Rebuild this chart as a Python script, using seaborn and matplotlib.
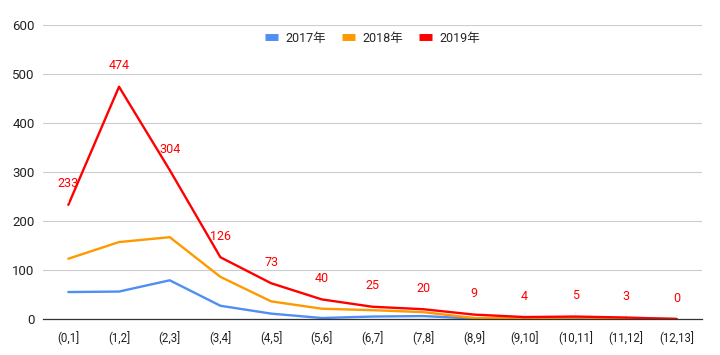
import numpy as np
import pandas as pd
import matplotlib
matplotlib.use('Agg')
import matplotlib.pyplot as plt
import seaborn as sns

# 区间分类
bins = ['(0,1]', '(1,2]', '(2,3]', '(3,4]', '(4,5]', '(5,6]', '(6,7]',
        '(7,8]', '(8,9]', '(9,10]', '(10,11]', '(11,12]', '(12,13]']
y2017 = [55, 56, 79, 27, 11, 2, 5, 6, 1, 1, 1, 1, 0]
y2018 = [123, 157, 167, 86, 36, 21, 18, 14, 2, 2, 3, 2, 0]
y2019 = [233, 474, 304, 126, 73, 40, 25, 20, 9, 4, 5, 3, 0]
years = ['2017年', '2018年', '2019年']
colors = ['#4f8ef5', '#ff9900', '#ff0000']

df = pd.DataFrame({'bin': bins * 3,
                   'x': list(range(len(bins))) * 3,
                   'count': y2017 + y2018 + y2019,
                   'year': [years[0]] * len(bins) + [years[1]] * len(bins) + [years[2]] * len(bins)})

sns.set_style('white')
plt.rcParams['font.family'] = ['Roboto', 'Noto Sans CJK SC', 'DejaVu Sans']

fig = plt.figure(figsize=(7.2, 3.55), dpi=100)
ax = fig.add_axes([0.0597, 0.1014, 0.9153, 0.8282])

sns.lineplot(data=df, x='x', y='count', hue='year', palette=colors,
             linewidth=1.7, ax=ax, legend=False)

# 2019年的数据标签
for i, v in enumerate(y2019):
    ax.annotate(str(v), xy=(i, v), xytext=(0, 15), textcoords='offset points',
                ha='center', va='center', color='#ff0000', fontsize=9,
                arrowprops=dict(arrowstyle='-', color='#eeeeee', lw=0.8,
                                shrinkA=5, shrinkB=2))

ax.set_xlim(-0.5, len(bins) - 0.5)
ax.set_ylim(0, 600)
ax.set_yticks(range(0, 601, 100))
ax.set_xticks(range(len(bins)))
ax.set_xticklabels(bins)
ax.tick_params(axis='x', labelsize=8.3, colors='#222222', length=0, pad=9)
ax.tick_params(axis='y', labelsize=9.5, colors='#222222', length=0, pad=6)
ax.set_xlabel('')
ax.set_ylabel('')
ax.grid(axis='y', color='#cccccc', linewidth=0.8)
ax.set_axisbelow(True)
for s in ['top', 'right', 'left']:
    ax.spines[s].set_visible(False)
ax.spines['bottom'].set_color('#333333')
ax.spines['bottom'].set_linewidth(0.9)

handles = [plt.Line2D([], [], color=c, linewidth=5, solid_capstyle='butt') for c in colors]
ax.legend(handles, years, loc='center', bbox_to_anchor=(0.5, 0.955), ncol=3,
          frameon=False, fontsize=9, handlelength=1.0, columnspacing=1.3,
          handletextpad=0.6)

fig.savefig('out.png', dpi=100)
